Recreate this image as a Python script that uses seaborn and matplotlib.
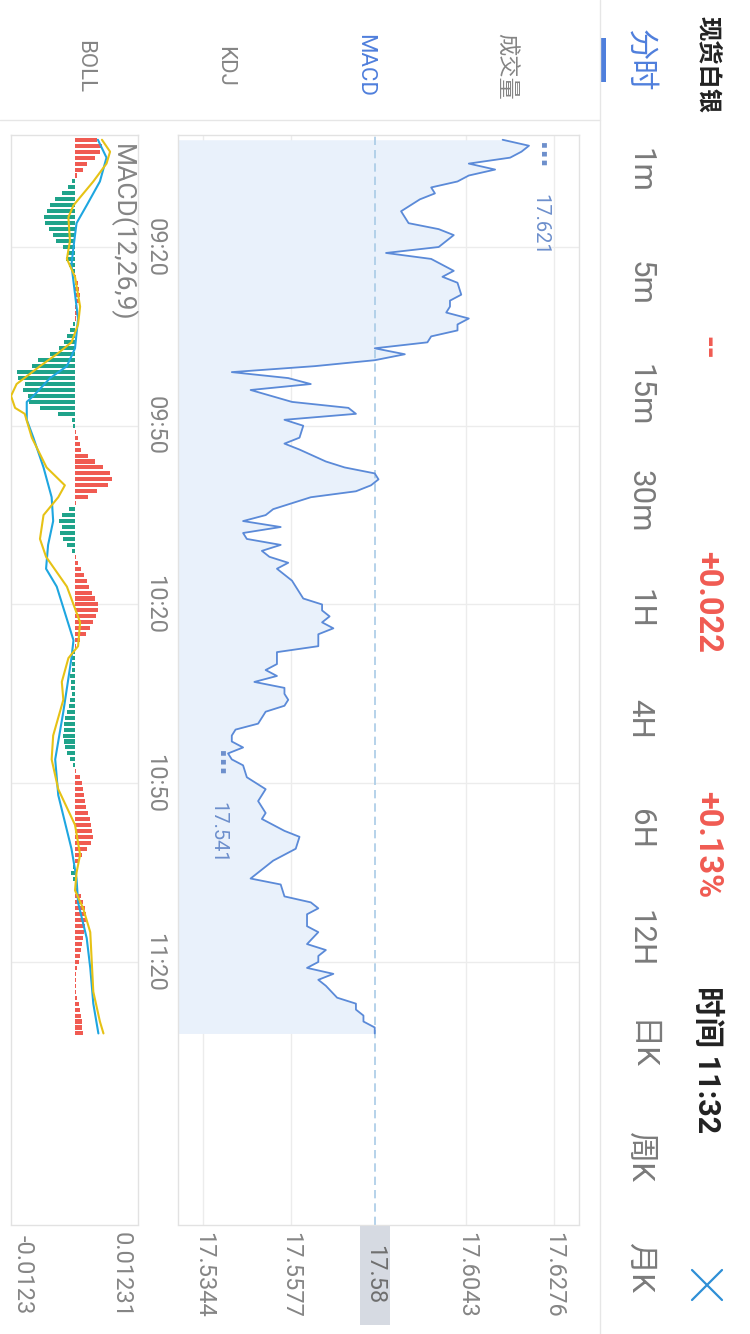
import numpy as np
import pandas as pd
import matplotlib
matplotlib.use("Agg")
import matplotlib.pyplot as plt
import seaborn as sns
from matplotlib.patches import Rectangle
from matplotlib.lines import Line2D
from matplotlib.transforms import blended_transform_factory

# ---------------- data ----------------
# minutes after 09:00 and last price of spot silver
minutes = [2, 3, 4, 5, 6, 7, 8, 9, 10, 11,
           12, 14, 16, 17, 18, 20, 21, 22, 23, 24,
           25, 26, 28, 29, 30, 31, 32, 33, 34, 35,
           36, 37, 38, 39, 40, 41, 42, 43, 44, 46,
           47, 48, 49, 50, 52, 53, 54, 56, 57, 58,
           59, 60, 61, 62, 64, 65, 66, 67, 68, 69,
           70, 71, 72, 73, 74, 76, 78, 79, 80, 81,
           82, 83, 84, 85, 87, 88, 90, 91, 92, 93,
           94, 95, 96, 97, 98, 100, 101, 102, 103, 104,
           105, 106, 107, 109, 111, 113, 115, 116, 118, 119,
           121, 123, 126, 127, 129, 130, 131, 132, 134, 135,
           137, 138, 139, 140, 141, 142, 143, 144, 146, 147,
           148, 149, 150, 151, 152]
prices = [17.614, 17.621, 17.619, 17.616, 17.605, 17.612, 17.605, 17.602, 17.595, 17.596,
          17.592, 17.587, 17.589, 17.597, 17.601, 17.597, 17.583, 17.595, 17.598, 17.601,
          17.598, 17.602, 17.603, 17.600, 17.600, 17.599, 17.605, 17.602, 17.602, 17.595,
          17.594, 17.580, 17.588, 17.580, 17.564, 17.542, 17.557, 17.563, 17.547, 17.558,
          17.573, 17.575, 17.556, 17.561, 17.560, 17.556, 17.560, 17.567, 17.572, 17.580,
          17.581, 17.579, 17.575, 17.563, 17.553, 17.551, 17.545, 17.555, 17.545, 17.546,
          17.555, 17.550, 17.552, 17.557, 17.554, 17.558, 17.560, 17.561, 17.566, 17.566,
          17.568, 17.566, 17.569, 17.565, 17.565, 17.554, 17.554, 17.551, 17.554, 17.548,
          17.556, 17.556, 17.557, 17.556, 17.551, 17.549, 17.543, 17.542, 17.542, 17.545,
          17.541, 17.542, 17.545, 17.546, 17.551, 17.549, 17.551, 17.550, 17.556, 17.560,
          17.559, 17.553, 17.547, 17.555, 17.556, 17.563, 17.565, 17.562, 17.562, 17.565,
          17.562, 17.567, 17.565, 17.565, 17.562, 17.569, 17.565, 17.567, 17.570, 17.575,
          17.575, 17.577, 17.577, 17.580, 17.580]

last_price = 17.58
price_ticks = [17.5344, 17.5577, 17.6043, 17.6276]
price_labels = ["17.5344", "17.5577", "17.6043", "17.6276"]

time_ticks = [20, 50, 80, 110, 140]
time_labels = ["09:20", "09:50", "10:20", "10:50", "11:20"]

# MACD(12,26,9) histogram, one bar per minute from 09:02
macd_minutes = list(range(2, 153))
macd_bar = [0.0044, 0.0054, 0.0050, 0.0040, 0.0024, 0.0016, 0.0005, -0.0004, -0.0012, -0.0025,
            -0.0038, -0.0048, -0.0055, -0.0061, -0.0058, -0.0050, -0.0042, -0.0036, -0.0022, -0.0012,
            -0.0016, -0.0010, -0.0004, 0.0003, 0.0006, 0.0009, 0.0010, 0.0008, 0.0005, 0.0004,
            0.0003, -0.0003, -0.0008, -0.0014, -0.0020, -0.0030, -0.0048, -0.0071, -0.0084, -0.0113,
            -0.0111, -0.0098, -0.0101, -0.0091, -0.0090, -0.0068, -0.0032, -0.0004, -0.0003, 0.0003,
            0.0006, 0.0010, 0.0013, 0.0027, 0.0040, 0.0056, 0.0070, 0.0073, 0.0066, 0.0044,
            0.0027, 0.0003, -0.0010, -0.0025, -0.0030, -0.0025, -0.0028, -0.0022, -0.0014, -0.0005,
            0.0003, 0.0006, 0.0012, 0.0018, 0.0024, 0.0028, 0.0034, 0.0040, 0.0046, 0.0047,
            0.0043, 0.0036, 0.0030, 0.0022, 0.0010, 0.0003, -0.0004, -0.0006, -0.0004, -0.0005,
            -0.0008, -0.0007, -0.0006, -0.0004, -0.0008, -0.0010, -0.0014, -0.0018, -0.0020, -0.0021,
            -0.0022, -0.0021, -0.0018, -0.0014, -0.0008, -0.0003, 0.0003, 0.0010, 0.0014, 0.0016,
            0.0018, 0.0020, 0.0022, 0.0026, 0.0030, 0.0032, 0.0034, 0.0036, 0.0033, 0.0025,
            0.0015, 0.0006, -0.0002, -0.0006, -0.0003, 0.0002, 0.0006, 0.0012, 0.0016, 0.0020,
            0.0022, 0.0022, 0.0020, 0.0018, 0.0016, 0.0014, 0.0012, 0.0010, 0.0008, 0.0005,
            0.0003, 0.0003, 0.0003, 0.0003, 0.0004, 0.0008, 0.0010, 0.0012, 0.0014, 0.0015,
            0.0016]

dif_minutes = [2, 4, 6, 9, 13, 15, 19, 22, 25, 30, 33, 36, 38, 40, 43, 45, 47, 48, 52, 57,
               60, 62, 65, 69, 72, 77, 83, 87, 89, 93, 96, 102, 106, 111, 117, 122, 125, 128,
               131, 135, 140, 145, 150, 152]
dif_values = [0.0054, 0.0070, 0.0063, 0.0037, -0.0002, -0.0012, -0.0009, -0.0015, 0.0001, 0.0011,
              0.0007, -0.0006, -0.0035, -0.0068, -0.0114, -0.0125, -0.0117, -0.0098, -0.0084, -0.0055,
              -0.0019, -0.0032, -0.0061, -0.0068, -0.0056, -0.0015, 0.0011, 0.0007, -0.0012, -0.0025,
              -0.0022, -0.0042, -0.0045, -0.0032, 0.0001, 0.0011, 0.0004, 0.0001,
              0.0017, 0.0031, 0.0034, 0.0037, 0.0050, 0.0057]

dea_minutes = [2, 5, 9, 13, 16, 20, 23, 30, 32, 37, 40, 42, 45, 46, 49, 52, 57, 62, 66, 70,
               74, 77, 86, 89, 98, 106, 112, 121, 126, 130, 136, 141, 147, 152]
dea_values = [0.0046, 0.0063, 0.0050, 0.0024, 0.0004, -0.0002, -0.0006, 0.0004, 0.0007, 0.0001,
              -0.0015, -0.0048, -0.0081, -0.0094, -0.0094, -0.0081, -0.0061, -0.0045, -0.0042, -0.0052,
              -0.0056, -0.0035, -0.0002, -0.0006, -0.0022, -0.0038, -0.0032, -0.0006, 0.0004, 0.0007,
              0.0024, 0.0031, 0.0037, 0.0047]

macd_lo, macd_hi = -0.0123, 0.01231

tabs = ["分时", "1m", "5m", "15m", "30m", "1H", "4H", "6H", "12H", "日K", "周K", "月K"]
indicators = ["成交量", "MACD", "KDJ", "BOLL"]

# ---------------- style ----------------
sns.set_theme(style="white")
plt.rcParams['font.family'] = ['Roboto', 'Noto Sans CJK SC', 'DejaVu Sans']

W, H = 750, 1334
fig = plt.figure(figsize=(W / 100, H / 100), dpi=100)
fig.patch.set_facecolor("white")


def fx(x):
    return x / W


def fy(y):
    return 1 - y / H


BLUE = "#5b8ad8"
FILL = "#e9f1fb"
GRID = "#ececec"
BORDER = "#e2e2e2"
GRAY = "#858585"
RED = "#f05b52"
GREEN = "#1fa38a"
ACTIVE = "#4f7fdc"

# time axis: one minute per step, top of the panels at 09:01
t_top, t_bottom = 1.20, 184.07
panel_top, panel_bottom = 135, 1224.5

# ---------------- price panel ----------------
ax = fig.add_axes([fx(178), fy(panel_bottom), (579 - 178) / W, (panel_bottom - panel_top) / H])
p_lo, p_hi = 17.5277, 17.6343
ax.set_xlim(p_lo, p_hi)
ax.set_ylim(t_bottom, t_top)

for p in price_ticks:
    ax.axvline(p, color=GRID, lw=1, zorder=0.5)
for t in time_ticks:
    ax.axhline(t, color=GRID, lw=1, zorder=0.5)

df = pd.DataFrame({"minute": minutes, "price": prices})
ax.fill_betweenx(df["minute"], p_lo, df["price"], color=FILL, lw=0, zorder=1)
ax.axvline(last_price, color="#a9cbe6", lw=1.2, ls=(0, (5, 3)), zorder=2)
sns.lineplot(data=df, x="price", y="minute", orient="y", ax=ax, color=BLUE, lw=1.3,
             zorder=3, legend=False)

ax.set_xticks(price_ticks)
ax.set_xticklabels(price_labels)
ax.set_yticks([])
ax.set_xlabel("")
ax.set_ylabel("")
ax.tick_params(axis="x", length=0, pad=5.5, labelrotation=270, labelsize=17, labelcolor=GRAY)
for s in ax.spines.values():
    s.set_color(BORDER)
    s.set_linewidth(1)

# last price tag on the axis
xtrans = ax.get_xaxis_transform()
ax.add_patch(Rectangle((last_price - 0.004, -0.0923), 0.008, 0.0909, transform=xtrans,
                       fc="#d6dae2", ec="none", clip_on=False, zorder=5))
ax.text(last_price, -0.0464, f"{last_price:.2f}", transform=xtrans, rotation=270,
        ha="center", va="center", fontsize=17, color="#6f6f6f", zorder=6, clip_on=False)

# high / low markers
imax = int(np.argmax(prices))
imin = int(np.argmin(prices))
for idx, dx in ((imax, 7.5), (imin, -7.5)):
    ax.annotate("⋯", xy=(prices[idx], minutes[idx]), xytext=(dx, -7), textcoords="offset points",
                rotation=270, ha="center", va="center", fontsize=19, fontweight="bold",
                color="#6d8fcc", family=["DejaVu Sans"])
    ax.annotate(f"{prices[idx]:.3f}", xy=(prices[idx], minutes[idx]), xytext=(dx, -57),
                textcoords="offset points", rotation=270, ha="center", va="center",
                fontsize=14.5, color="#6d8fcc")

# ---------------- MACD panel ----------------
ax2 = fig.add_axes([fx(10.5), fy(panel_bottom), (137.5 - 10.5) / W, (panel_bottom - panel_top) / H])
ax2.set_xlim(-0.0126, 0.0124)
ax2.set_ylim(t_bottom, t_top)
for t in time_ticks:
    ax2.axhline(t, color=GRID, lw=1, zorder=0.5)

bar_colors = [RED if v >= 0 else GREEN for v in macd_bar]
ax2.barh(macd_minutes, macd_bar, height=0.68, color=bar_colors, lw=0, zorder=2)

dif_df = pd.DataFrame({"minute": dif_minutes, "value": dif_values})
dea_df = pd.DataFrame({"minute": dea_minutes, "value": dea_values})
sns.lineplot(data=dea_df, x="value", y="minute", orient="y", ax=ax2, color="#1ea6e0",
             lw=1.5, zorder=3, legend=False)
sns.lineplot(data=dif_df, x="value", y="minute", orient="y", ax=ax2, color="#e6c215",
             lw=1.5, zorder=3, legend=False)
ax2.set_xticks([])
ax2.set_yticks([])
ax2.set_xlabel("")
ax2.set_ylabel("")
for s in ax2.spines.values():
    s.set_color(BORDER)
    s.set_linewidth(1)

xtrans2 = ax2.get_xaxis_transform()
ax2.text(macd_lo, -0.0464, f"{macd_lo:.4f}", transform=xtrans2, rotation=270, ha="left",
         va="center", fontsize=17, color=GRAY, clip_on=False)
ax2.annotate(f"{macd_hi:.5f}", xy=(macd_hi, -0.0464), xycoords=xtrans2, xytext=(-3, 0),
             textcoords="offset points", rotation=270, ha="right", va="center",
             fontsize=17, color=GRAY, annotation_clip=False)
fig.text(fx(122), fy(233), "MACD(12,26,9)", rotation=270, ha="center", va="center",
         fontsize=19, color=GRAY)

# time labels between the panels
ttrans = blended_transform_factory(fig.transFigure, ax.transData)
for t, lab in zip(time_ticks, time_labels):
    ax.text(fx(155), t, lab, transform=ttrans, rotation=270, ha="center", va="center",
            fontsize=17, color=GRAY, clip_on=False)

# ---------------- header ----------------
fig.add_artist(Line2D([0, fx(600)], [fy(120), fy(120)], color="#e6e6e6", lw=1))
fig.add_artist(Line2D([fx(600), fx(600)], [0, 1], color="#e6e6e6", lw=1))

ind_x = [505, 365, 225, 85]
for name, x in zip(indicators, ind_x):
    fig.text(fx(x), fy(66), name, rotation=270, ha="center", va="center", fontsize=16,
             color=ACTIVE if name == "MACD" else GRAY)

tab_y = [60, 170, 283, 395, 501, 609, 719, 829, 939, 1046, 1157, 1268]
for name, y in zip(tabs, tab_y):
    fig.text(fx(640), fy(y), name, rotation=270, ha="center", va="center", fontsize=22.5,
             color=ACTIVE if name == "分时" else "#7a7a7a")
fig.add_artist(Rectangle((fx(601), fy(82)), 5 / W, 44 / H, transform=fig.transFigure,
                         fc=ACTIVE, ec="none"))

fig.text(fx(708), fy(65), "现货白银", rotation=270, ha="center", va="center", fontsize=17.5,
         fontweight="bold", color="#222222")
fig.text(fx(707), fy(348), "--", rotation=270, ha="center", va="center", fontsize=22,
         fontweight="bold", color=RED)
fig.text(fx(707), fy(602), "+0.022", rotation=270, ha="center", va="center", fontsize=23.5,
         fontweight="bold", color=RED)
fig.text(fx(707), fy(845), "+0.13%", rotation=270, ha="center", va="center", fontsize=23.5,
         fontweight="bold", color=RED)
fig.text(fx(707), fy(1060), "时间 11:32", rotation=270, ha="center", va="center", fontsize=22,
         fontweight="bold", color="#222222")
for (xa, ya), (xb, yb) in (((692, 1270), (722, 1300)), ((692, 1300), (722, 1270))):
    fig.add_artist(Line2D([fx(xa), fx(xb)], [fy(ya), fy(yb)], color="#2f8fd6", lw=1.6))

fig.savefig("out.png", dpi=100, facecolor="white")
